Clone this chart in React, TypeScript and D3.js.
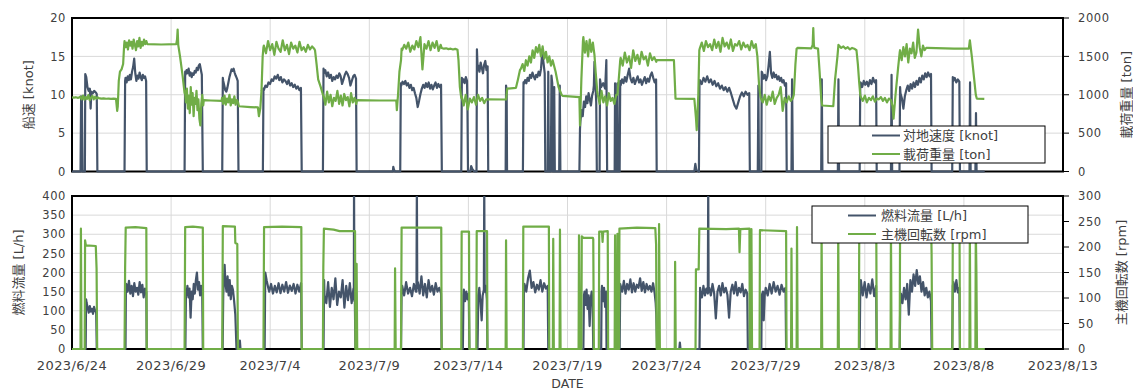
import React, { useEffect, useRef } from "react";
import * as d3 from "d3";

type Pt = [number, number];

// evenly spread a list of read-off values between two day offsets
const run = (t0: number, t1: number, vals: number[]): Pt[] =>
  vals.map((v, i) => [t0 + ((t1 - t0) * i) / (vals.length - 1), v] as Pt);

const startDate = new Date(2023, 5, 24);
const dayTicks = [0, 5, 10, 15, 20, 25, 30, 35, 40, 45, 50];
const speedTicks = [0, 5, 10, 15, 20];
const loadTicks = [0, 500, 1000, 1500, 2000];
const fuelTicks = [0, 50, 100, 150, 200, 250, 300, 350, 400];
const rpmTicks = [0, 50, 100, 150, 200, 250, 300];

const topNames = ["対地速度 [knot]", "載荷重量 [ton]"];
const bottomNames = ["燃料流量 [L/h]", "主機回転数 [rpm]"];

// [days since 2023/6/24, knot]
const speed: Pt[] = [
  [0, 0], [0.43, 0], [0.46, 9.8], [0.5, 9.5], [0.53, 0], [0.65, 0], [0.67, 12.7], [0.72, 12.3], [0.78, 11.0], [0.84, 10.5], [0.9, 10.8], [0.94, 8.2], [0.98, 10.4], [1.05, 10.2], [1.12, 10.5], [1.2, 10.3], [1.25, 10.1], [1.28, 0],
  [2.65, 0], [2.68, 11.8], ...run(2.7, 3.74, [12.2, 11.6, 12.4, 11.9, 12.6, 12.0, 13.0, 13.6, 14.7, 12.8, 11.8, 12.5, 12.1, 12.9, 12.3, 11.9, 12.6, 12.2, 12.4, 11.8]), [3.77, 0],
  [5.68, 0], [5.71, 13.0], ...run(5.73, 6.55, [12.6, 13.2, 12.8, 13.4, 12.5, 12.9, 12.3, 12.8, 12.6, 13.1, 12.9, 13.5, 13.2, 13.8, 14.0, 13.3, 12.6]), [6.6, 0],
  [7.58, 0], [7.61, 12.2], ...run(7.63, 8.36, [11.8, 11.2, 10.6, 10.4, 10.9, 11.6, 12.3, 12.8, 13.3, 13.1, 13.4, 12.9, 12.5, 12.2, 11.8]), [8.4, 0],
  [9.63, 0], [9.66, 10.8], ...run(9.68, 11.55, [10.6, 11.2, 11.0, 11.6, 11.4, 12.0, 11.8, 12.4, 12.1, 12.6, 11.9, 12.3, 11.6, 12.0, 11.8, 11.4, 11.9, 11.2, 11.5, 11.0, 11.3, 10.8, 11.1, 10.6, 10.9]), [11.59, 0],
  [12.66, 0], [12.69, 13.4], ...run(12.71, 14.33, [12.8, 13.2, 12.4, 12.9, 12.2, 12.6, 11.8, 12.3, 12.0, 12.5, 12.2, 12.8, 12.4, 11.4, 12.0, 12.6, 13.0, 12.7, 12.2, 11.2, 11.8, 12.4, 12.6, 12.1]), [14.36, 0],
  [16.19, 0], [16.21, 0.6], [16.25, 0.2], [16.3, 0],
  [16.56, 0], [16.59, 11.5], ...run(16.61, 18.62, [11.2, 11.7, 11.4, 11.8, 11.2, 11.5, 10.9, 11.3, 10.6, 10.9, 10.2, 9.6, 8.4, 9.2, 10.1, 10.8, 11.3, 10.9, 11.5, 11.0, 11.6, 10.8, 11.3, 10.7, 11.2, 11.6, 10.9, 11.4, 11.0, 11.3]), [18.66, 0],
  [19.64, 0], [19.67, 12.2], ...run(19.69, 19.93, [11.6, 12.0, 11.5, 12.3, 11.8]), [19.95, 9], [19.98, 0], [20.1, 0], [20.14, 0.7], [20.2, 0.3], [20.3, 0],
  [20.41, 0], [20.43, 15.9], [20.47, 13.2], ...run(20.5, 20.97, [13.8, 13.0, 14.2, 13.5, 12.8, 13.9, 14.4, 13.2, 13.7]), [21.0, 0],
  [21.88, 0], [21.9, 11.2], [21.93, 10.6], [21.95, 0],
  [22.75, 0], [22.78, 11.6], ...run(22.8, 23.85, [11.4, 11.9, 11.5, 12.2, 11.8, 12.6, 12.2, 12.9, 12.4, 12.0, 12.6, 12.3, 13.0, 12.5, 13.4, 15.6, 14.2, 12.8]), [23.88, 0],
  [24.0, 0], [24.03, 13.0], [24.06, 0], [24.16, 0], [24.19, 12.5], [24.23, 11.5], [24.26, 0], [24.3, 0], [24.33, 11.0], [24.36, 0], [24.58, 0], [24.61, 11.2], [24.64, 0],
  [25.6, 0], [25.63, 5.5], ...run(25.65, 26.3, [6.5, 8.0, 7.2, 9.1, 8.4, 9.8, 8.9, 10.2, 9.4, 8.6, 9.9, 10.5]), [26.33, 11.2], [26.36, 14.3], [26.4, 12.0], [26.45, 9.0], [26.48, 0],
  [26.62, 0], [26.64, 12.0], [26.7, 11.0], [26.8, 11.5], [26.9, 10.8], [26.96, 14.5], [27.0, 0], [27.38, 0], [27.4, 11.5], [27.43, 0], [27.5, 0], [27.52, 11.5], [27.55, 0],
  [27.63, 0], [27.66, 11.8], ...run(27.68, 29.47, [11.2, 12.0, 11.5, 12.3, 11.7, 12.6, 13.4, 12.1, 11.6, 12.2, 11.4, 11.9, 12.4, 11.6, 12.0, 11.3, 11.8, 12.3, 11.5, 12.1, 11.7, 12.5, 12.9, 12.2, 11.6, 12.0]), [29.5, 0],
  [31.4, 0], [31.45, 1.0], [31.5, 0.2], [31.63, 0], [31.66, 11.6], ...run(31.68, 34.17, [11.9, 11.4, 12.2, 11.7, 12.4, 11.6, 12.0, 11.3, 11.8, 11.1, 11.5, 10.8, 11.2, 10.6, 11.0, 10.4, 10.9, 10.2, 9.4, 8.6, 8.2, 9.0, 9.8, 10.3, 9.8, 10.4, 10.0, 10.2]), [34.2, 0],
  [34.6, 0], [34.63, 11.2], [34.66, 0], [34.78, 0], [34.8, 13.0], ...run(34.83, 36.03, [12.8, 12.1, 12.6, 11.9, 12.4, 13.8, 15.6, 12.8, 12.2, 12.9, 12.3, 12.6, 12.0, 12.4, 11.8, 12.2, 11.6, 11.9, 11.2, 11.5]), [36.06, 0],
  [36.3, 0], [36.33, 12.0], [36.37, 0], [37.8, 0], [37.83, 12.0], [37.86, 0], [38.64, 0], [38.67, 12.0], [38.7, 0],
  [39.74, 0], [39.77, 11.2], ...run(39.79, 40.57, [11.6, 11.0, 11.8, 11.3, 11.7, 11.1, 11.9, 11.4, 12.2, 11.6, 11.9]), [40.6, 0],
  [41.32, 0], [41.35, 12.6], [41.38, 0],
  [41.75, 0], [41.78, 11.0], ...run(41.8, 43.34, [10.2, 9.5, 8.2, 9.8, 10.6, 11.2, 10.5, 11.4, 10.8, 11.6, 11.0, 11.8, 11.3, 12.2, 11.6, 12.5, 12.0, 12.8, 12.3, 12.9, 12.4, 12.7]), [43.37, 0],
  [44.41, 0], [44.44, 12.3], ...run(44.46, 44.77, [11.8, 12.2, 11.6, 12.0, 11.7]), [44.8, 0],
  [45.28, 0], [45.31, 11.6], [45.34, 0], [45.58, 0], [45.61, 7.6], [45.64, 0], [46.05, 0],
];

// [days, ton]
const load: Pt[] = [
  ...run(0, 0.38, [965, 962, 968, 960, 966]),
  ...run(0.42, 1.3, [975, 940, 990, 935, 970, 945, 995, 930, 960, 985, 940, 975, 950, 965]),
  ...run(1.35, 2.22, [955, 950, 952, 948, 950, 947, 949, 946]),
  [2.28, 790], [2.31, 850], [2.36, 1180], [2.42, 1300], [2.5, 1330], [2.58, 1400], [2.63, 1640],
  ...run(2.65, 3.75, [1700, 1620, 1680, 1590, 1710, 1640, 1690, 1600, 1720, 1650, 1580, 1700, 1630, 1740, 1610, 1690, 1640, 1720, 1660, 1700]),
  [3.8, 1660], [4.5, 1655], [5.26, 1660], [5.3, 1720], [5.33, 1850], [5.36, 1650], [5.45, 1500], [5.58, 1250], [5.68, 1020],
  ...run(5.7, 6.62, [1050, 900, 1080, 820, 990, 760, 1100, 870, 1020, 720, 960, 880, 1050, 800, 940, 690, 600, 880, 1000, 860]),
  [6.65, 930], [7.0, 925], [7.55, 920],
  ...run(7.57, 8.38, [960, 880, 990, 870, 950, 900, 1000, 860, 940, 890, 980, 870, 930, 900]),
  [8.42, 850], [9.0, 840], [9.38, 835], [9.43, 720], [9.5, 820], [9.56, 1050], [9.62, 1500], [9.66, 1620],
  ...run(9.68, 12.22, [1640, 1540, 1700, 1580, 1660, 1520, 1690, 1600, 1560, 1710, 1580, 1650, 1530, 1680, 1600, 1640, 1550, 1690, 1580, 1620, 1560, 1650, 1590, 1630, 1600]),
  [12.26, 1580], [12.34, 1400], [12.42, 1200], [12.55, 1100], [12.66, 1000],
  ...run(12.7, 14.34, [980, 870, 1040, 900, 1000, 850, 960, 920, 1050, 880, 990, 860, 1010, 930, 970, 850, 1020, 900, 960, 880]),
  [14.38, 930], [15.5, 925], [16.36, 925], [16.39, 800], [16.45, 1000], [16.52, 1300], [16.6, 1450], [16.63, 1600],
  ...run(16.66, 18.6, [1580, 1650, 1600, 1680, 1560, 1640, 1590, 1700, 1620, 1750, 1330, 1660, 1600, 1700, 1580, 1680, 1610, 1700, 1570, 1650]),
  ...run(18.65, 19.45, [1610, 1600, 1605, 1595, 1600, 1590, 1598, 1585]),
  [19.5, 1450], [19.57, 1100], [19.64, 960],
  ...run(19.66, 20.9, [980, 860, 1000, 810, 950, 900, 970, 870, 1000, 920, 960, 890, 940]),
  [20.95, 940], [21.9, 938], [21.96, 1080], [22.4, 1090], [22.5, 1200], [22.6, 1320],
  ...run(22.65, 24.25, [1340, 1400, 1310, 1450, 1380, 1500, 1420, 1580, 1480, 1620, 1550, 1650, 1500, 1630, 1470, 1560, 1420, 1500, 1380, 1450]),
  [24.4, 1300], [24.55, 1100], [24.7, 1000], [24.75, 985], [25.6, 970], [25.63, 600], [25.7, 1200], [25.78, 1700],
  ...run(25.8, 26.36, [1750, 1550, 1700, 1500, 1720, 1560, 1680, 1520]),
  [26.42, 1300], [26.5, 1050],
  ...run(26.53, 27.46, [1000, 880, 1050, 900, 980, 860, 1020, 920, 960, 880, 1000]),
  [27.52, 1000], [27.6, 1250], [27.66, 1450],
  ...run(27.68, 29.48, [1480, 1380, 1550, 1420, 1500, 1350, 1580, 1440, 1520, 1400, 1560, 1460, 1500, 1380, 1540, 1450, 1490, 1430]),
  [29.5, 1450], [30.37, 1450], [30.45, 950], [31.4, 945], [31.48, 700], [31.52, 540], [31.6, 1000], [31.65, 1580],
  ...run(31.67, 34.5, [1600, 1680, 1570, 1700, 1620, 1660, 1580, 1720, 1610, 1690, 1560, 1740, 1630, 1680, 1600, 1720, 1570, 1660, 1640, 1700, 1590, 1680, 1620, 1650, 1580, 1700, 1610, 1660]),
  [34.58, 1500], [34.66, 1150], [34.72, 1000],
  ...run(34.75, 36.36, [960, 900, 1000, 870, 980, 920, 1040, 880, 960, 1000, 1100, 790, 960, 900, 980, 920, 950]),
  [36.42, 1000], [36.5, 1400], [36.56, 1600], [36.6, 1610], [37.3, 1605], [37.37, 1650], [37.4, 1870], [37.43, 1650], [37.46, 1610], [37.64, 1600], [37.72, 1300], [37.8, 950], [37.85, 860], [38.41, 850], [38.5, 1200], [38.62, 1500], [38.67, 1650],
  ...run(38.7, 39.58, [1640, 1610, 1630, 1600, 1620, 1590, 1610, 1600, 1580]),
  [39.65, 1400], [39.72, 1150], [39.77, 1000],
  ...run(39.8, 41.32, [970, 920, 990, 900, 960, 930, 980, 910, 950, 940, 970, 920, 960, 900, 950, 930]),
  [41.4, 850], [41.45, 690], [41.55, 1000], [41.68, 1350], [41.76, 1550],
  ...run(41.78, 43.1, [1580, 1450, 1620, 1500, 1660, 1420, 1600, 1540, 1680, 1480, 1550, 1850, 1620, 1500, 1640, 1580, 1610]),
  [43.15, 1610], [44.5, 1600], [45.25, 1600], [45.3, 1710], [45.4, 1500], [45.52, 1200], [45.6, 1000], [45.65, 950], [46.03, 945],
];

// [days, L/h]
const fuel: Pt[] = [
  [0, 0], [0.69, 0], [0.71, 130], ...run(0.74, 1.22, [120, 108, 95, 112, 98, 105, 92, 110, 100, 96]), [1.25, 0],
  [2.7, 0], [2.72, 165], ...run(2.74, 3.75, [170, 150, 178, 145, 165, 138, 172, 150, 160, 142, 175, 148, 168, 135, 158, 150]), [3.77, 0],
  [5.72, 0], [5.75, 155], ...run(5.77, 6.57, [140, 165, 135, 158, 82, 150, 130, 170, 145, 180, 200, 155, 175, 140, 165, 150]), [6.6, 0],
  [7.6, 0], [7.63, 140], [7.7, 220], ...run(7.74, 8.12, [175, 150, 190, 140, 180, 130, 165, 155]), [8.18, 125], [8.24, 90], [8.3, 0], [8.45, 0], [8.47, 22], [8.5, 0],
  [9.72, 0], [9.75, 200], [9.82, 180], [9.9, 160], ...run(9.95, 11.56, [150, 170, 145, 165, 148, 172, 146, 168, 150, 175, 147, 166, 152, 170, 145, 168, 150, 172]), [11.59, 0],
  [12.69, 0], [12.72, 180], ...run(12.74, 14.2, [140, 120, 175, 110, 160, 130, 185, 115, 150, 135, 180, 108, 165, 128, 172, 120, 158]), [14.22, 130], [14.23, 430], [14.25, 125], [14.27, 130], [14.3, 0],
  [16.6, 0], [16.63, 150], ...run(16.66, 17.35, [165, 140, 175, 145, 160, 138, 170, 150]), [17.38, 150], [17.4, 430], [17.42, 160], ...run(17.45, 18.62, [175, 145, 190, 140, 170, 135, 180, 150, 165, 142, 172, 150, 160, 145]), [18.65, 0],
  [19.72, 0], [19.75, 140], ...run(19.77, 20.02, [155, 125, 150, 130, 145]), [20.05, 0],
  [20.46, 0], [20.5, 140], [20.55, 160], [20.6, 130], [20.67, 75], [20.72, 140], [20.78, 155], [20.8, 430], [20.82, 150], [20.88, 165], [20.93, 130], [20.96, 0],
  [22.78, 0], [22.8, 165], ...run(22.83, 24.0, [170, 150, 185, 205, 160, 175, 148, 168, 155, 180, 150, 172, 158, 165]), [24.03, 0],
  [25.8, 0], [25.83, 140], ...run(25.86, 26.27, [150, 115, 155, 105, 140, 60, 130, 150, 110]), [26.3, 0],
  [26.7, 0], [26.72, 150], ...run(26.74, 26.95, [165, 125, 160, 110, 150]), [26.97, 0],
  [27.63, 0], [27.66, 170], ...run(27.68, 29.4, [165, 150, 178, 145, 170, 155, 182, 148, 172, 150, 168, 160, 185, 152, 175, 148, 170, 155, 165, 150, 172, 145]), [29.45, 120], [29.48, 90], [29.52, 0],
  [30.64, 0], [30.67, 17], [30.7, 0],
  [31.66, 0], [31.69, 160], ...run(31.71, 32.08, [150, 135, 165, 140, 158, 145]), [32.1, 430], [32.12, 150],
  ...run(32.15, 34.07, [160, 140, 170, 145, 80, 150, 165, 140, 172, 148, 160, 142, 82, 150, 168, 145, 175, 140, 160, 148, 170, 138, 155, 145]), [34.1, 0],
  [34.78, 0], [34.8, 140], [34.86, 150], [34.9, 75], [34.95, 140], ...run(35.0, 36.0, [160, 140, 170, 145, 175, 150, 165, 142, 168, 150, 160]), [36.03, 0],
  [39.74, 0], [39.77, 150], ...run(39.8, 40.57, [180, 140, 175, 135, 170, 145, 182, 138, 165]), [40.6, 0],
  [41.76, 0], [41.79, 130], ...run(41.82, 43.34, [145, 120, 160, 130, 170, 90, 180, 150, 195, 165, 206, 170, 190, 150, 175, 140, 160, 135, 150, 125]), [43.37, 0],
  [44.41, 0], [44.44, 165], ...run(44.47, 44.77, [175, 150, 180, 148, 160]), [44.8, 0],
  [46.05, 0],
];

// [days, rpm]
const rpm: Pt[] = [
  [0, 0], [0.43, 0], [0.45, 236], [0.48, 0], [0.64, 0], [0.66, 213], [0.7, 203], [1.2, 202], [1.24, 158], [1.27, 0],
  [2.65, 0], [2.68, 159], [2.71, 238], [3.2, 239], [3.75, 237], [3.77, 0],
  [5.68, 0], [5.71, 239], [6.1, 240], [6.6, 238], [6.62, 0],
  [7.58, 0], [7.61, 241], [8.22, 240], [8.24, 208], [8.34, 206], [8.37, 0],
  [9.66, 0], [9.69, 239], [10.6, 240], [11.57, 239], [11.59, 0],
  [12.66, 0], [12.68, 160], [12.71, 236], [13.2, 234], [13.5, 231], [14.28, 231], [14.3, 0], [14.34, 0], [14.36, 167], [14.39, 0],
  [16.28, 0], [16.3, 158], [16.33, 0],
  [16.6, 0], [16.63, 238], [18.63, 238], [18.65, 0],
  [19.64, 0], [19.66, 230], [20.03, 230], [20.05, 0],
  [20.4, 0], [20.42, 231], [20.94, 231], [20.96, 0],
  [21.88, 0], [21.9, 213], [21.93, 0],
  [22.75, 0], [22.77, 240], [24.06, 240], [24.08, 0],
  [24.26, 0], [24.28, 216], [24.31, 0], [24.6, 0], [24.62, 234], [24.65, 0],
  [25.56, 0], [25.58, 223], [25.62, 0], [25.7, 0], [25.72, 221], [25.8, 218], [26.28, 218], [26.3, 215], [26.33, 0],
  [26.58, 0], [26.6, 230], [26.74, 230], [26.77, 210], [26.8, 230], [27.03, 231], [27.05, 0],
  [27.38, 0], [27.4, 223], [27.43, 0], [27.5, 0], [27.52, 226], [27.55, 0], [27.6, 0], [27.62, 236], [28.5, 238], [29.43, 237], [29.47, 205], [29.5, 0], [29.6, 0], [29.62, 245], [29.66, 0],
  [30.41, 0], [30.43, 171], [30.46, 0],
  [31.46, 0], [31.48, 156], [31.62, 156], [31.65, 236], [33.0, 235], [33.65, 236], [33.68, 190], [33.72, 235], [34.18, 236], [34.2, 0], [34.26, 0], [34.28, 235], [34.31, 0],
  [34.69, 0], [34.71, 233], [36.03, 231], [36.05, 0],
  [36.28, 0], [36.3, 197], [36.33, 0], [36.56, 0], [36.58, 239], [36.61, 0],
  [37.8, 0], [37.82, 235], [37.85, 0], [38.64, 0], [38.66, 235], [38.69, 0],
  [39.7, 0], [39.72, 235], [40.58, 235], [40.6, 0],
  [41.3, 0], [41.32, 235], [41.35, 0],
  [41.76, 0], [41.78, 235], [43.35, 235], [43.37, 187], [43.4, 0],
  [44.42, 0], [44.44, 235], [44.78, 235], [44.8, 0],
  [45.28, 0], [45.3, 235], [45.33, 0], [45.58, 0], [45.6, 235], [45.63, 155], [45.66, 0],
  [46.05, 0],
];

const NAVY = "#44546A";
const GREEN = "#70AD47";
const FONT = "'DejaVu Sans', 'Noto Sans CJK JP', sans-serif";

export default function App() {
  const ref = useRef<SVGSVGElement>(null);

  useEffect(() => {
    const svg = d3.select(ref.current);
    svg.selectAll("*").remove();

    const L = 72, R = 1063;
    const x = d3.scaleTime()
      .domain([startDate, d3.timeDay.offset(startDate, 50)])
      .range([L, R]);
    const xd = (d: number) => x(new Date(startDate.getTime() + d * 864e5));
    const fmt = d3.timeFormat("%Y/%-m/%-d");

    const panels = [
      { id: "top", top: 18, bottom: 171.5, lData: speed, rData: load, lMax: 20, rMax: 2000, lTicks: speedTicks, rTicks: loadTicks,
        lTitle: "船速 [knot]", lTitleX: 28, rTitle: "載荷重量 [ton]", rTitleX: 1126, names: topNames,
        leg: { x: 828, y: 126, w: 217, h: 37, lx: 872, tx: 903 } },
      { id: "bot", top: 196, bottom: 349, lData: fuel, rData: rpm, lMax: 400, rMax: 300, lTicks: fuelTicks, rTicks: rpmTicks,
        lTitle: "燃料流量 [L/h]", lTitleX: 18, rTitle: "主機回転数 [rpm]", rTitleX: 1121, names: bottomNames,
        leg: { x: 812, y: 206, w: 216, h: 37, lx: 848, tx: 881 } },
    ];

    panels.forEach((p) => {
      const yl = d3.scaleLinear().domain([0, p.lMax]).range([p.bottom, p.top]);
      const yr = d3.scaleLinear().domain([0, p.rMax]).range([p.bottom, p.top]);
      const g = svg.append("g");

      // grid
      g.selectAll(".hg").data(p.lTicks).enter().append("line")
        .attr("x1", L).attr("x2", R)
        .attr("y1", (d) => yl(d)).attr("y2", (d) => yl(d))
        .attr("stroke", "#d9d9d9").attr("stroke-width", 1);
      g.selectAll(".vg").data(dayTicks).enter().append("line")
        .attr("x1", (d) => xd(d)).attr("x2", (d) => xd(d))
        .attr("y1", p.top).attr("y2", p.bottom)
        .attr("stroke", "#d9d9d9").attr("stroke-width", 1);

      g.append("rect")
        .attr("x", L).attr("y", p.top)
        .attr("width", R - L).attr("height", p.bottom - p.top)
        .attr("fill", "none").attr("stroke", "#000").attr("stroke-width", 2);

      // left tick labels
      g.selectAll(".lt").data(p.lTicks).enter().append("text")
        .attr("x", 66).attr("y", (d) => yl(d))
        .attr("dy", "0.36em").attr("text-anchor", "end")
        .style("font-family", FONT).style("font-size", "11.5px").style("letter-spacing", "0.6px")
        .attr("fill", "#404040").text((d) => d);

      // right ticks + labels
      g.selectAll(".rtm").data(p.rTicks).enter().append("line")
        .attr("x1", R).attr("x2", R + 6)
        .attr("y1", (d) => yr(d)).attr("y2", (d) => yr(d))
        .attr("stroke", "#000").attr("stroke-width", 1);
      g.selectAll(".rt").data(p.rTicks).enter().append("text")
        .attr("x", 1078).attr("y", (d) => yr(d))
        .attr("dy", "0.36em").attr("text-anchor", "start")
        .style("font-family", FONT).style("font-size", "11.5px").style("letter-spacing", "0.6px")
        .attr("fill", "#404040").text((d) => d);

      // axis titles
      const mid = (p.top + p.bottom) / 2;
      [[p.lTitle, p.lTitleX], [p.rTitle, p.rTitleX]].forEach(([t, tx]) => {
        g.append("text")
          .attr("transform", `translate(${tx},${mid}) rotate(-90)`)
          .attr("text-anchor", "middle").attr("dominant-baseline", "central")
          .style("font-family", FONT).style("font-size", "13px")
          .attr("fill", "#404040").text(t as string);
      });

      // series
      const clipId = "clip-" + p.id;
      svg.append("clipPath").attr("id", clipId).append("rect")
        .attr("x", L).attr("y", p.top).attr("width", R - L).attr("height", p.bottom - p.top + 3);
      const lineL = d3.line<Pt>().x((d) => xd(d[0])).y((d) => yl(d[1]));
      const lineR = d3.line<Pt>().x((d) => xd(d[0])).y((d) => yr(d[1]));
      const sg = g.append("g").attr("clip-path", `url(#${clipId})`);
      sg.append("path").datum(p.lData).attr("d", lineL)
        .attr("fill", "none").attr("stroke", NAVY).attr("stroke-width", 2.2).attr("stroke-linejoin", "round");
      sg.append("path").datum(p.rData).attr("d", lineR)
        .attr("fill", "none").attr("stroke", GREEN).attr("stroke-width", 2.2).attr("stroke-linejoin", "round");

      // legend
      const lg = g.append("g");
      lg.append("rect")
        .attr("x", p.leg.x).attr("y", p.leg.y).attr("width", p.leg.w).attr("height", p.leg.h)
        .attr("fill", "#fff").attr("stroke", "#000").attr("stroke-width", 1);
      p.names.forEach((n, i) => {
        const yy = p.leg.y + 9.5 + i * 18.5;
        lg.append("line")
          .attr("x1", p.leg.lx).attr("x2", p.leg.lx + 28)
          .attr("y1", yy).attr("y2", yy)
          .attr("stroke", i === 0 ? NAVY : GREEN).attr("stroke-width", 2);
        lg.append("text")
          .attr("x", p.leg.tx).attr("y", yy).attr("dy", "0.36em")
          .style("font-family", FONT).style("font-size", "13px")
          .attr("fill", "#404040").text(n);
      });
    });

    // x tick labels
    svg.append("g").selectAll("text").data(dayTicks).enter().append("text")
      .attr("x", (d) => xd(d)).attr("y", 370)
      .attr("text-anchor", "middle")
      .style("font-family", FONT).style("font-size", "13px").style("letter-spacing", "0.4px")
      .attr("fill", "#404040")
      .text((d) => fmt(d3.timeDay.offset(startDate, d)));

    svg.append("text")
      .attr("x", (L + R) / 2).attr("y", 388)
      .attr("text-anchor", "middle")
      .style("font-family", FONT).style("font-size", "12.5px")
      .attr("fill", "#404040").text("DATE");
  }, []);

  return (
    <svg ref={ref} width={1133} height={391}
      style={{ position: "absolute", left: 0, top: 0, background: "#fff" }} />
  );
}
